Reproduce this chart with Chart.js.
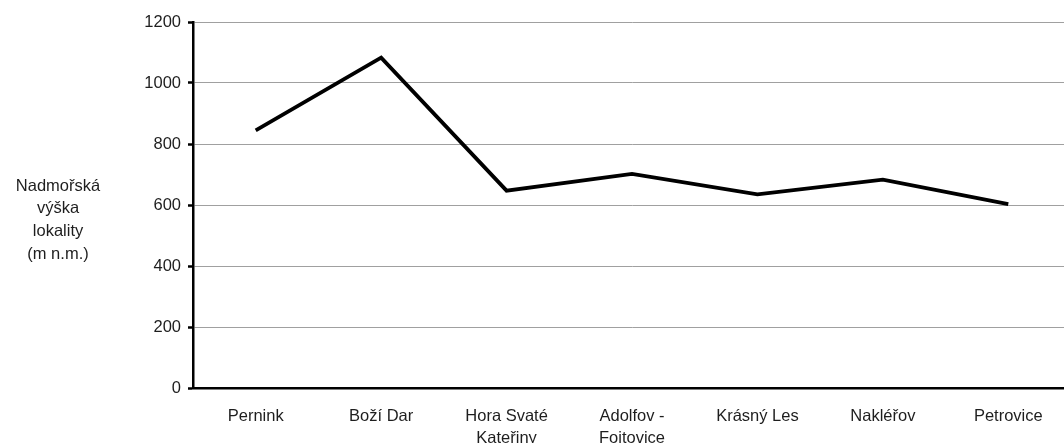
<!DOCTYPE html>
<html>
<head>
<meta charset="utf-8">
<script src="https://cdn.jsdelivr.net/npm/chart.js@4/dist/chart.umd.min.js"></script>
<style>
  html, body { margin: 0; padding: 0; background: #fff; overflow: hidden; }
  #wrap { position: relative; width: 1064px; height: 443px; overflow: hidden; }
  canvas { display: block; }
</style>
</head>
<body>
<div id="wrap"><canvas id="c" width="1072" height="443"></canvas></div>
<script>
// Localities (multi-line names are split into arrays)
const localities = [
  'Pernink',
  'Boží Dar',
  ['Hora Svaté', 'Kateřiny'],
  ['Adolfov -', 'Foitovice'],
  'Krásný Les',
  'Nakléřov',
  'Petrovice'
];
// Altitude of each locality (m a.s.l.)
const altitude = [845, 1083, 647, 702, 635, 683, 603];
// Value axis
const yMin = 0, yMax = 1200, yStep = 200;
const yTitleLines = ['Nadmořská', 'výška', 'lokality', '(m n.m.)'];

const FONT = '"Liberation Sans", Arial, sans-serif';
const TEXT = '#1e1e1e';
const FS = 16.5;

// Horizontal axis title block on the left side
const yTitlePlugin = {
  id: 'yTitle',
  afterDraw(chart) {
    const ctx = chart.ctx;
    ctx.save();
    ctx.font = FS + 'px ' + FONT;
    ctx.fillStyle = TEXT;
    ctx.textAlign = 'center';
    ctx.textBaseline = 'middle';
    const lh = 22.7;
    const y0 = 186;
    yTitleLines.forEach((t, i) => ctx.fillText(t, 58, y0 + i * lh));
    ctx.restore();
  }
};

new Chart(document.getElementById('c'), {
  type: 'line',
  data: {
    labels: localities,
    datasets: [{
      data: altitude,
      borderColor: '#000',
      borderWidth: 3.8,
      borderJoinStyle: 'miter',
      pointRadius: 0,
      tension: 0,
      fill: false
    }]
  },
  options: {
    responsive: false,
    animation: false,
    devicePixelRatio: 1,
    layout: { padding: { top: 22, right: 1, left: 0, bottom: 0 } },
    plugins: { legend: { display: false }, tooltip: { enabled: false } },
    scales: {
      x: {
        offset: true,
        grid: { display: false, drawTicks: false },
        border: { color: '#000', width: 2.5 },
        ticks: {
          color: TEXT,
          padding: 17,
          maxRotation: 0,
          autoSkip: false,
          font: { family: FONT, size: FS, lineHeight: 1.35 }
        },
        afterFit(scale) { scale.height = 55; }
      },
      y: {
        min: yMin,
        max: yMax,
        ticks: {
          stepSize: yStep,
          color: TEXT,
          padding: 7,
          font: { family: FONT, size: FS },
          callback: (v) => String(v)
        },
        grid: {
          color: '#a0a0a0',
          lineWidth: 1,
          tickColor: '#000',
          tickWidth: 2.5,
          tickLength: 5
        },
        border: { color: '#000', width: 2.5 },
        afterFit(scale) { scale.width = 193; }
      }
    }
  },
  plugins: [yTitlePlugin]
});
</script>
</body>
</html>
